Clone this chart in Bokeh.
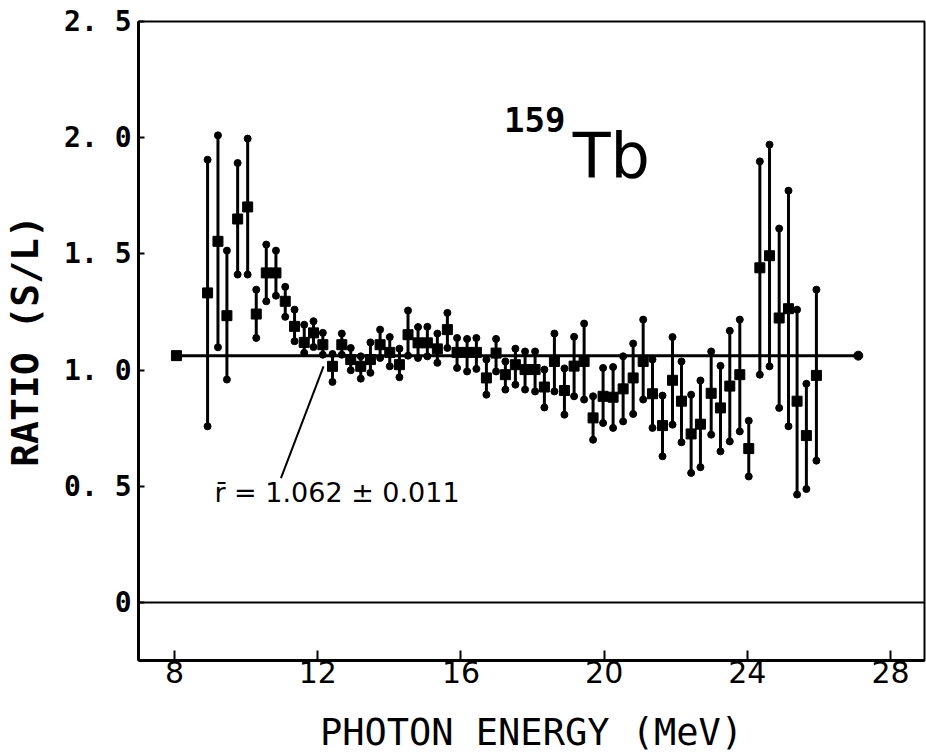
from bokeh.plotting import figure
from bokeh.models import Range1d, FixedTicker, Label
from bokeh.embed import file_html
from bokeh.resources import INLINE
from bokeh.core.properties import value

# ---- data ----
energy = [8.92, 9.21, 9.46, 9.76, 10.04, 10.28, 10.56, 10.83, 11.09, 11.35,
          11.62, 11.88, 12.14, 12.41, 12.67, 12.92, 13.20, 13.47, 13.74, 14.01,
          14.28, 14.52, 14.80, 15.06, 15.34, 15.62, 15.89, 16.17, 16.43, 16.71,
          16.98, 17.24, 17.52, 17.79, 18.07, 18.33, 18.61, 18.89, 19.16, 19.44,
          19.69, 19.97, 20.25, 20.53, 20.81, 21.09, 21.35, 21.63, 21.91, 22.16,
          22.43, 22.69, 22.99, 23.25, 23.51, 23.79, 24.04, 24.35, 24.62, 24.89,
          25.15, 25.39, 25.65, 25.93]
ratio = [1.332, 1.554, 1.234, 1.650, 1.702, 1.241, 1.418, 1.418, 1.296, 1.188,
         1.119, 1.160, 1.109, 1.016, 1.109, 1.045, 1.016, 1.045, 1.109, 1.076,
         1.023, 1.152, 1.117, 1.117, 1.091, 1.174, 1.076, 1.076, 1.076, 0.966,
         1.073, 0.980, 1.023, 1.002, 1.002, 0.927, 1.037, 0.912, 1.017, 1.037,
         0.794, 0.887, 0.883, 0.919, 0.966, 1.037, 0.898, 0.761, 0.956, 0.866,
         0.725, 0.767, 0.900, 0.837, 0.931, 0.980, 0.662, 1.440, 1.492, 1.224,
         1.264, 0.866, 0.718, 0.977]
lower = [0.758, 1.098, 0.959, 1.411, 1.411, 1.138, 1.296, 1.320, 1.229, 1.124,
         1.074, 1.099, 1.066, 0.949, 1.066, 0.999, 0.963, 0.988, 1.052, 1.016,
         0.969, 1.062, 1.052, 1.059, 1.031, 1.095, 1.009, 0.994, 1.005, 0.894,
         0.994, 0.916, 0.937, 0.916, 0.908, 0.839, 0.908, 0.808, 0.887, 0.873,
         0.700, 0.772, 0.751, 0.779, 0.811, 0.873, 0.751, 0.629, 0.765, 0.689,
         0.557, 0.582, 0.722, 0.650, 0.693, 0.736, 0.542, 0.980, 1.016, 0.837,
         0.758, 0.464, 0.488, 0.610]
upper = [1.905, 2.010, 1.514, 1.891, 1.996, 1.346, 1.540, 1.514, 1.358, 1.260,
         1.195, 1.210, 1.160, 1.069, 1.157, 1.095, 1.059, 1.119, 1.174, 1.142,
         1.092, 1.256, 1.185, 1.186, 1.157, 1.246, 1.138, 1.134, 1.138, 1.045,
         1.134, 1.037, 1.092, 1.080, 1.080, 1.002, 1.157, 1.007, 1.143, 1.200,
         0.887, 1.009, 1.013, 1.059, 1.114, 1.217, 1.045, 0.890, 1.142, 1.037,
         0.894, 0.955, 1.080, 1.018, 1.169, 1.217, 0.782, 1.898, 1.970, 1.609,
         1.772, 1.260, 0.941, 1.346]

x_ticks = [8, 12, 16, 20, 24, 28]
y_ticks = [0, 0.5, 1.0, 1.5, 2.0, 2.5]
y_tick_labels = ["0", "0. 5", "1. 0", "1. 5", "2. 0", "2. 5"]

mean_ratio = 1.062
mean_x = [8.05, 27.1]
pointer_x = [12.16, 10.97]
pointer_y = [1.016, 0.535]

X0, X1 = 6.99, 28.95
p = figure(width=926, height=756,
           x_range=Range1d(X0, X1), y_range=Range1d(-0.25, 2.5),
           output_backend="svg", toolbar_location=None,
           min_border_left=137, min_border_right=2,
           min_border_top=21, min_border_bottom=96)
p.xgrid.visible = False
p.ygrid.visible = False
p.outline_line_color = "black"
p.outline_line_width = 2
p.background_fill_color = "white"

# axes
p.xaxis.ticker = FixedTicker(ticks=x_ticks)
p.yaxis.ticker = FixedTicker(ticks=y_ticks)
p.yaxis.major_label_overrides = {t: l for t, l in zip(y_ticks, y_tick_labels)}
for ax in (p.xaxis, p.yaxis):
    ax.axis_line_width = 3
    ax.axis_line_color = "black"
    ax.major_tick_out = 0
    ax.minor_tick_line_color = None
    ax.major_tick_line_width = 2
    ax.major_label_text_color = "black"
    ax.axis_label_text_color = "black"
    ax.axis_label_text_font_style = "normal"
p.xaxis.major_tick_in = 10
p.yaxis.major_tick_in = 6
p.xaxis.major_label_text_font = "DejaVu Sans"
p.xaxis.major_label_text_font_size = "30px"
p.xaxis.major_label_standoff = 0
p.yaxis.major_label_text_font = "DejaVu Sans Mono"
p.yaxis.major_label_text_font_style = "bold"
p.yaxis.major_label_text_font_size = "28px"
p.yaxis.major_label_standoff = 7
p.xaxis.axis_label = "PHOTON ENERGY (MeV)"
p.xaxis.axis_label_text_font = "DejaVu Sans Mono"
p.xaxis.axis_label_text_font_size = "37px"
p.xaxis.axis_label_standoff = 25
p.yaxis.axis_label = "RATIO (S/L)"
p.yaxis.axis_label_text_font = "DejaVu Sans Mono"
p.yaxis.axis_label_text_font_style = "bold"
p.yaxis.axis_label_text_font_size = "38px"
p.yaxis.axis_label_standoff = 14

# zero line and mean line
p.line(x=[X0, X1], y=[0, 0], line_color="black", line_width=2)
p.line(x=mean_x, y=[mean_ratio, mean_ratio], line_color="black", line_width=3)
p.scatter(x=[mean_x[0]], y=[mean_ratio], marker="square", size=10, color="black")
p.scatter(x=[mean_x[1]], y=[mean_ratio], marker="circle", size=9, color="black")

# error bars
p.segment(x0=energy, y0=lower, x1=energy, y1=upper, line_color="black", line_width=3)
p.scatter(x=energy + energy, y=lower + upper, marker="circle", size=7, color="black")
p.scatter(x=energy, y=ratio, marker="square", size=10, color="black")

# annotation
p.line(x=pointer_x, y=pointer_y, line_color="black", line_width=2)
p.add_layout(Label(x=9.11, y=0.472, text="r\u0304 = 1.062 \u00b1 0.011",
                   text_font="DejaVu Sans", text_font_size="27px",
                   text_color="black", text_baseline="alphabetic"))
p.add_layout(Label(x=17.2, y=2.077, text="159",
                   text_font="DejaVu Sans Mono", text_font_style="bold",
                   text_font_size="34px", text_color="black",
                   text_baseline="alphabetic"))
p.add_layout(Label(x=19.12, y=1.925, text="Tb",
                   text_font="DejaVu Sans", text_font_size="62px",
                   text_color="black", text_baseline="alphabetic"))

open("out.html", "w").write(file_html(p, INLINE))
